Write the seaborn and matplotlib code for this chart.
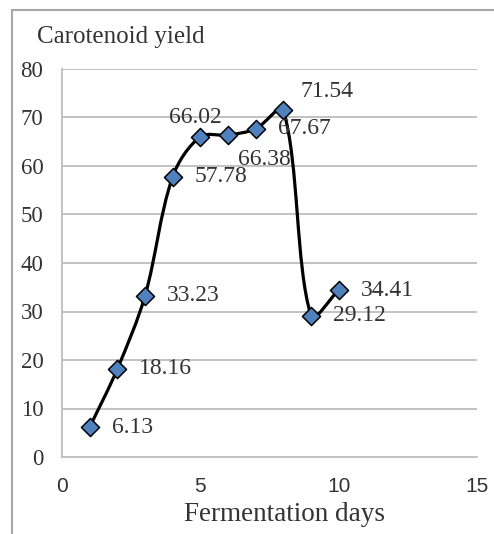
import numpy as np
import pandas as pd
import matplotlib
matplotlib.use("Agg")
import matplotlib.pyplot as plt
import seaborn as sns
from matplotlib.path import Path
from matplotlib.patches import PathPatch, Rectangle

# data
days = [1, 2, 3, 4, 5, 6, 7, 8, 9, 10]
yields = [6.13, 18.16, 33.23, 57.78, 66.02, 66.38, 67.67, 71.54, 29.12, 34.41]
x_ticks = [0, 5, 10, 15]
y_ticks = [0, 10, 20, 30, 40, 50, 60, 70, 80]

df = pd.DataFrame({"days": days, "yield": yields})

sns.set_theme(style="white")
plt.rcParams['font.family'] = ['Liberation Serif', 'DejaVu Serif']
txt_color = "#333333"
grid_color = "#BDBDBD"

fig = plt.figure(figsize=(4.94, 5.34), dpi=100)
ax = fig.add_axes([62 / 494, 1 - 457 / 534, 415 / 494, 388 / 534])
ax.set_xlim(0, 15)
ax.set_ylim(0, 80)


def smooth_path(xs, ys):
    # excel-like smoothed line: bezier with tangents scaled by segment length (screen space)
    p = ax.transData.transform(np.column_stack([xs, ys]))
    n = len(p)
    verts = [p[0]]
    codes = [Path.MOVETO]
    for i in range(n - 1):
        a = p[max(i - 1, 0)]
        b, c = p[i], p[i + 1]
        d = p[min(i + 2, n - 1)]
        l_ab = np.hypot(*(b - a))
        l_bc = np.hypot(*(c - b))
        l_cd = np.hypot(*(d - c))
        c1 = b + (c - a) * l_bc / (l_ab + l_bc) / 3
        c2 = c - (d - b) * l_bc / (l_bc + l_cd) / 3
        verts += [c1, c2, c]
        codes += [Path.CURVE4] * 3
    verts = ax.transData.inverted().transform(np.array(verts))
    return Path(verts, codes)


ax.add_patch(PathPatch(smooth_path(days, yields), facecolor="none", edgecolor="black",
                       lw=2.3, zorder=2, capstyle="round", joinstyle="round"))

sns.scatterplot(data=df, x="days", y="yield", marker="D", s=85, color="#4F81BD",
                edgecolor="black", linewidth=1.1, zorder=3, ax=ax, legend=False)

# data labels (some dragged away from the default right position)
moved = {4: (-5, 19, "center"), 5: (10, -24, "left"), 7: (17, 19, "left")}
for i, (d, v) in enumerate(zip(days, yields)):
    dx, dy, ha = moved.get(i, (22, 0, "left"))
    ax.annotate(f"{v:.2f}", (d, v), xytext=(dx, dy), textcoords="offset pixels",
                ha=ha, va="center", fontsize=17, color=txt_color, zorder=4)

ax.set_xticks(x_ticks)
ax.set_yticks(y_ticks)
ax.set_xticklabels([str(t) for t in x_ticks], family="Liberation Sans", fontsize=15, color=txt_color)
ax.set_yticklabels([str(t) for t in y_ticks], fontsize=16.5, color=txt_color)
ax.tick_params(axis="both", length=5.5, width=1.2, color=grid_color, direction="out")
ax.tick_params(axis="x", pad=9)
ax.tick_params(axis="y", pad=8)
for y in y_ticks[1:]:
    ax.axhline(y, color=grid_color, lw=1.3, zorder=0)
for s in ["top", "right"]:
    ax.spines[s].set_visible(False)
for s in ["left", "bottom"]:
    ax.spines[s].set_color(grid_color)
    ax.spines[s].set_linewidth(1.3)
ax.set_xlabel("Fermentation days", fontsize=19.5, color=txt_color, va="center")
ax.xaxis.set_label_coords(0.537, -0.149)
ax.set_ylabel("")

fig.text(37 / 494, 1 - 37 / 534, "Carotenoid yield", fontsize=18, color=txt_color,
         ha="left", va="center")

# outer chart border
fig.patches.append(Rectangle((12 / 494, -0.1), 1.2, 1.1 - 10 / 534, transform=fig.transFigure,
                             fill=False, edgecolor="#A8A8A8", lw=1.5))

fig.savefig("out.png", dpi=100)
